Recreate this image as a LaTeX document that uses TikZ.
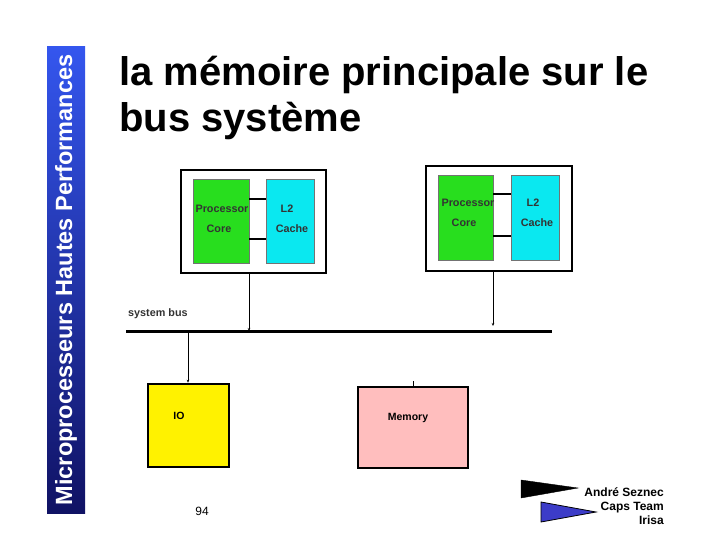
\documentclass[tikz,border=0pt]{standalone}
\usepackage{fontspec}
\setmainfont{Liberation Sans}
\usetikzlibrary{arrows.meta}
\definecolor{cpugreen}{RGB}{40,222,30}
\definecolor{l2cyan}{RGB}{10,232,240}
\definecolor{memPink}{RGB}{255,190,190}
\definecolor{barTop}{RGB}{52,86,238}
\definecolor{barBot}{RGB}{16,18,100}
\definecolor{penBlue}{RGB}{60,60,200}
\tikzset{
  modbox/.style={draw=black,line width=1.4pt,fill=white,inner sep=0pt},
  corebox/.style={draw=black!55,line width=0.4pt,fill=cpugreen,inner sep=0pt},
  cachebox/.style={draw=black!55,line width=0.4pt,fill=l2cyan,inner sep=0pt},
  devbox/.style={draw=black,line width=2.6pt,inner sep=0pt},
  small/.style={font=\fontsize{10.8}{12}\selectfont\bfseries,text=black!80,inner sep=0pt},
  smallb/.style={font=\fontsize{10.5}{12}\selectfont\bfseries,inner sep=0pt},
  wire/.style={line width=0.8pt,-{Stealth[length=3pt,width=2.5pt]}},
  link/.style={line width=1.4pt}
}
\begin{document}
\begin{tikzpicture}[x=1pt,y=-1pt]
\useasboundingbox (0,0) rectangle (720,540);
% side bar
\shade[top color=barTop,bottom color=barBot] (47,47) rectangle (85,513);
\node[rotate=90,text=white,font=\fontsize{23.5}{25}\selectfont\bfseries,inner sep=0pt] (bar) at (66,280) {Microprocesseurs Hautes Performances};
% title
\node[anchor=north west,align=left,font=\fontsize{40}{46}\selectfont\bfseries,inner sep=0pt] (title) at (119,56) {la mémoire principale sur le\\bus système};
% module 1
\node[modbox,minimum width=145pt,minimum height=103pt] (m1) at (253.5,221.5) {};
\node[corebox,minimum width=56pt,minimum height=84pt] (g1) at (221,221) {};
\node[cachebox,minimum width=48pt,minimum height=84pt] (c1) at (290,221) {};
\draw[link] (g1.east |- 0,199) -- (c1.west |- 0,199);
\draw[link] (g1.east |- 0,239) -- (c1.west |- 0,239);
\node[small] (p1) at (222,209) {Processor};
\node[small] (k1) at (219,229) {Core};
\node[small] (l1) at (287,209) {L2};
\node[small] (h1) at (292,229) {Cache};
% module 2
\node[modbox,minimum width=146pt,minimum height=105pt] (m2) at (499,218.5) {};
\node[corebox,minimum width=55pt,minimum height=85pt] (g2) at (465.5,217.5) {};
\node[cachebox,minimum width=48pt,minimum height=85pt] (c2) at (535,217.5) {};
\draw[link] (g2.east |- 0,194) -- (c2.west |- 0,194);
\draw[link] (g2.east |- 0,236) -- (c2.west |- 0,236);
\node[small] (p2) at (468,203) {Processor};
\node[small] (k2) at (464,223) {Core};
\node[small] (l2) at (533,203) {L2};
\node[small] (h2) at (537,223) {Cache};
% bus
\coordinate (busL) at (126,331);
\coordinate (busR) at (552,331);
\draw[line width=3pt] (busL) -- (busR);
\node[small,anchor=west] (busl) at (128,314) {system bus};
% devices
\node[devbox,fill=yellow,minimum width=81pt,minimum height=83pt] (io) at (188.5,425.5) {};
\node[smallb] (iot) at (179,416) {IO};
\node[devbox,fill=memPink,minimum width=110pt,minimum height=81pt] (mem) at (413,427.5) {};
\node[smallb] (memt) at (408,418) {Memory};
% connectors
\coordinate (m1d) at (249,273);
\coordinate (m2d) at (493,271);
\draw[wire] (m1d) -- (m1d |- busL);
\draw[wire] (m2d) -- (493,326);
\coordinate (iou) at (188,331);
\draw[wire] (iou) -- (iou |- io.north);
\coordinate (memu) at (413,381);
\draw[line width=0.8pt] (memu) -- (memu |- mem.north);
% page number
\node[font=\fontsize{12}{14}\selectfont,inner sep=0pt] (pg) at (202,511) {94};
% pennants
\filldraw[black] (521,480) -- (578,488) -- (521,498) -- cycle;
\filldraw[fill=penBlue,draw=black,line width=0.8pt] (541,502) -- (596,512) -- (541,522) -- cycle;
\node[anchor=east,align=right,font=\fontsize{12}{14}\selectfont\bfseries,inner sep=0pt] (auth) at (664,506) {André Seznec\\Caps Team\\Irisa};
\end{tikzpicture}
\end{document}
